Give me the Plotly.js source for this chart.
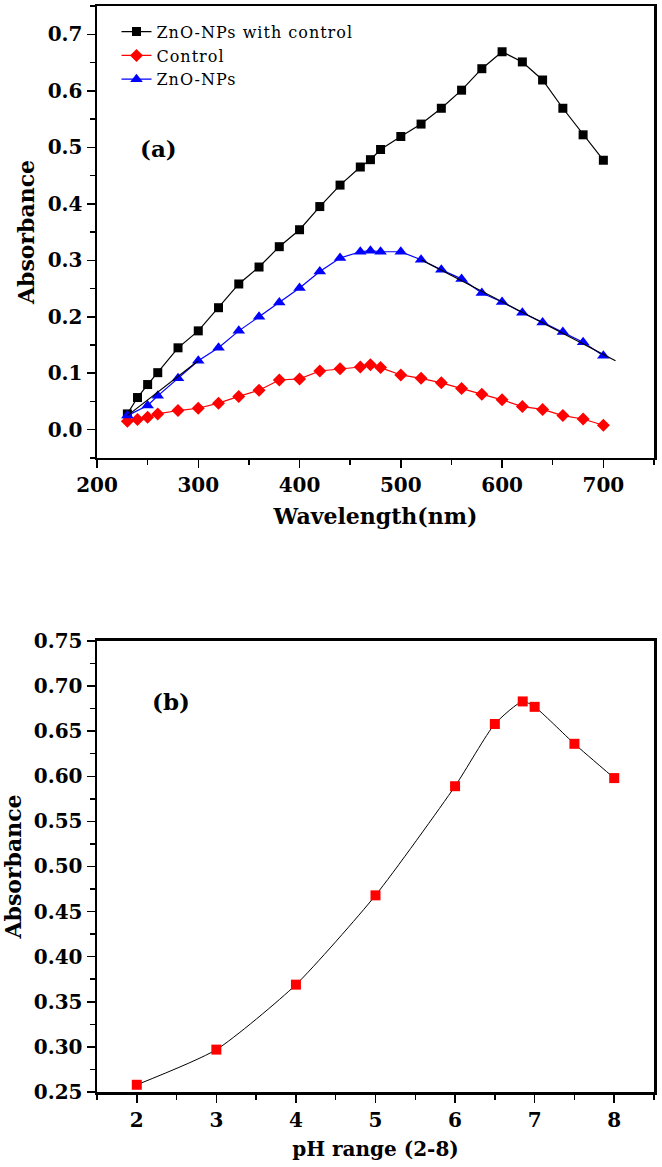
<!DOCTYPE html>
<html>
<head>
<meta charset="utf-8">
<script src="https://cdn.plot.ly/plotly-3.0.1.min.js"></script>
<style>
  html, body { margin: 0; padding: 0; background: #fff; }
  #chart { width: 662px; height: 1167px; }
  .legendtext { letter-spacing: 1px; }
</style>
</head>
<body>
<div id="chart"></div>
<script>
// Panel (a): absorbance spectra
const wl_ctrl_zno = [230, 240, 250, 260, 280, 300, 320, 340, 360, 380, 400, 420, 440, 460, 470, 480, 500, 520, 540, 560, 580, 600, 620, 640, 660, 680, 700];
const abs_ctrl_zno = [0.028, 0.057, 0.080, 0.101, 0.145, 0.175, 0.216, 0.258, 0.288, 0.324, 0.354, 0.395, 0.433, 0.465, 0.478, 0.496, 0.519, 0.541, 0.569, 0.601, 0.639, 0.669, 0.651, 0.619, 0.569, 0.522, 0.477];

const wl_control = [230, 240, 250, 260, 280, 300, 320, 340, 360, 380, 400, 420, 440, 460, 470, 480, 500, 520, 540, 560, 580, 600, 620, 640, 660, 680, 700];
const abs_control = [0.015, 0.018, 0.022, 0.028, 0.034, 0.038, 0.047, 0.059, 0.070, 0.088, 0.090, 0.104, 0.108, 0.111, 0.115, 0.110, 0.097, 0.091, 0.083, 0.073, 0.063, 0.053, 0.041, 0.036, 0.025, 0.019, 0.008];

const wl_zno = [230, 250, 260, 280, 300, 320, 340, 360, 380, 400, 420, 440, 460, 470, 480, 500, 520, 540, 560, 580, 600, 620, 640, 660, 680, 700];
const abs_zno = [0.025, 0.043, 0.060, 0.091, 0.122, 0.145, 0.175, 0.200, 0.225, 0.251, 0.280, 0.304, 0.315, 0.317, 0.315, 0.315, 0.301, 0.283, 0.267, 0.242, 0.226, 0.207, 0.190, 0.173, 0.155, 0.131];

// thin black line drawn over parts of the ZnO-NPs curve in the original
const overlay_x = [230, 300, null, 520, 712];
const overlay_y = [0.025, 0.122, null, 0.301, 0.122];

// Panel (b): absorbance vs pH
const ph_values = [2, 3, 4, 5, 6, 6.5, 6.85, 7, 7.5, 8];
const abs_ph = [0.258, 0.297, 0.369, 0.468, 0.589, 0.658, 0.683, 0.677, 0.636, 0.598];

const serif = 'DejaVu Serif';
const tickFont = {family: serif, size: 20, weight: 'bold', color: '#000'};
const titleFont = {family: serif, size: 22, weight: 'bold', color: '#000'};

const traceCtrlZno = {
    x: wl_ctrl_zno, y: abs_ctrl_zno,
    mode: 'lines+markers',
    name: 'ZnO-NPs with control',
    line: {color: '#000', width: 1.2},
    marker: {symbol: 'square', size: 9, color: '#000'},
    xaxis: 'x', yaxis: 'y'
};

const traceControl = {
    x: wl_control, y: abs_control,
    mode: 'lines+markers',
    name: 'Control',
    line: {color: '#ff0000', width: 1.2},
    marker: {symbol: 'diamond', size: 10, color: '#ff0000'},
    xaxis: 'x', yaxis: 'y'
};

const traceZno = {
    x: wl_zno, y: abs_zno,
    mode: 'lines+markers',
    name: 'ZnO-NPs',
    line: {color: '#0000ff', width: 1.2},
    marker: {symbol: 'triangle-up', size: 11, color: '#0000ff'},
    xaxis: 'x', yaxis: 'y'
};

const traceOverlay = {
    x: overlay_x, y: overlay_y,
    mode: 'lines',
    showlegend: false,
    hoverinfo: 'skip',
    line: {color: '#000', width: 1.2},
    xaxis: 'x', yaxis: 'y'
};

const tracePH = {
    x: ph_values, y: abs_ph,
    mode: 'lines+markers',
    showlegend: false,
    line: {color: '#000', width: 1, shape: 'spline', smoothing: 0.6},
    marker: {symbol: 'square', size: 10, color: '#ff0000'},
    xaxis: 'x2', yaxis: 'y2'
};

const axisBase = {
    showline: true, linecolor: '#000', linewidth: 2.5, mirror: true,
    ticks: 'outside', ticklen: 8, tickwidth: 1.5, tickcolor: '#000',
    showgrid: false, zeroline: false,
    tickfont: tickFont
};

const layout = {
    width: 662, height: 1167,
    margin: {l: 97, r: 8, t: 6, b: 75},
    paper_bgcolor: '#fff', plot_bgcolor: '#fff',
    showlegend: true,
    legend: {
        x: 0.035, y: 0.992, xanchor: 'left', yanchor: 'top',
        bgcolor: 'rgba(0,0,0,0)',
        font: {family: serif, size: 16, color: '#000'}
    },
    xaxis: Object.assign({}, axisBase, {
        domain: [0, 1], anchor: 'y',
        range: [200, 750], tick0: 200, dtick: 100,
        minor: {dtick: 50, ticks: 'outside', ticklen: 5, tickwidth: 1.5, tickcolor: '#000'},
        title: {text: 'Wavelength(nm)', font: titleFont, standoff: 12}
    }),
    yaxis: Object.assign({}, axisBase, {
        domain: [0.5838, 1], anchor: 'x',
        range: [-0.05, 0.75], tick0: 0, dtick: 0.1, tickformat: '.1f',
        minor: {dtick: 0.05, ticks: 'outside', ticklen: 5, tickwidth: 1.5, tickcolor: '#000'},
        title: {text: 'Absorbance', font: titleFont, standoff: 7}
    }),
    xaxis2: Object.assign({}, axisBase, {
        domain: [0, 1], anchor: 'y2',
        range: [1.5, 8.5], tick0: 2, dtick: 1,
        minor: {dtick: 0.5, ticks: 'outside', ticklen: 5, tickwidth: 1.5, tickcolor: '#000'},
        title: {text: 'pH range (2-8)', font: {family: serif, size: 20, weight: 'bold', color: '#000'}, standoff: 12}
    }),
    yaxis2: Object.assign({}, axisBase, {
        domain: [0, 0.4153], anchor: 'x2',
        range: [0.25, 0.75], tick0: 0.25, dtick: 0.05, tickformat: '.2f',
        minor: {dtick: 0.025, ticks: 'outside', ticklen: 5, tickwidth: 1.5, tickcolor: '#000'},
        title: {text: 'Absorbance', font: titleFont, standoff: 7}
    }),
    annotations: [
        {text: '(a)', xref: 'paper', yref: 'paper', x: 0.074, y: 0.883, showarrow: false,
         font: {family: serif, size: 23, weight: 'bold', color: '#000'}},
        {text: '(b)', xref: 'paper', yref: 'paper', x: 0.095, y: 0.360, showarrow: false,
         font: {family: serif, size: 23, weight: 'bold', color: '#000'}}
    ]
};

Plotly.newPlot('chart', [traceCtrlZno, traceControl, traceZno, traceOverlay, tracePH], layout, {staticPlot: true});
</script>
</body>
</html>
